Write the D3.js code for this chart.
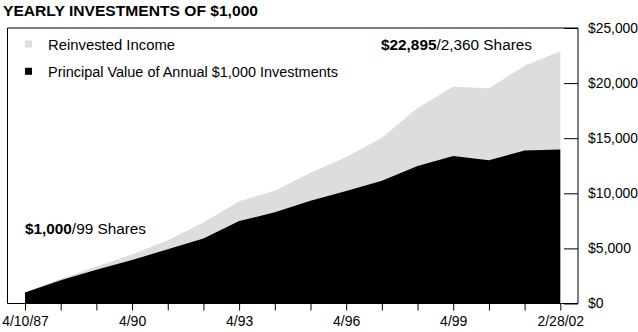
<!DOCTYPE html>
<html>
<head>
<meta charset="utf-8">
<script src="https://cdn.jsdelivr.net/npm/d3@7"></script>
<style>
  body { margin: 0; background: #fff; }
  svg { display: block; font-family: "Liberation Sans", Arial, sans-serif; }
</style>
</head>
<body>
<svg id="chart" width="638" height="332"></svg>
<script>
// ---- data ----
const periods = ["4/10/87","4/88","4/89","4/90","4/91","4/92","4/93","4/94","4/95","4/96","4/97","4/98","4/99","4/00","4/01","2/28/02"];
const tickLabels = ["4/10/87","4/90","4/93","4/96","4/99","2/28/02"];
const principal = [1000, 2110, 3070, 3950, 4920, 5900, 7480, 8270, 9320, 10220, 11130, 12480, 13380, 12990, 13890, 13980];
const totalValue = [1000, 2250, 3350, 4450, 5750, 7350, 9280, 10230, 11870, 13290, 15030, 17730, 19680, 19530, 21580, 22895];
const yTicks = [0, 5000, 10000, 15000, 20000, 25000];
const legendItems = ["Reinvested Income", "Principal Value of Annual $1,000 Investments"];
const legendColors = ["#dddddd", "#000000"];

(function () {
const svg = d3.select("#chart");
const fLeft = 7.5, fRight = 578, fTop = 28, fBottom = 303.5;

const x = d3.scalePoint().domain(periods).range([25, 560.3]);
const y = d3.scaleLinear().domain([0, 25000]).range([fBottom, fTop]);

const rows = periods.map((p, i) => ({p, principal: principal[i], total: totalValue[i]}));

// areas
svg.append("path")
  .datum(rows)
  .attr("fill", legendColors[0])
  .attr("d", d3.area().x(d => x(d.p)).y0(y(0)).y1(d => y(d.total)));
svg.append("path")
  .datum(rows)
  .attr("fill", legendColors[1])
  .attr("d", d3.area().x(d => x(d.p)).y0(y(0)).y1(d => y(d.principal)));

// frame (left, top, bottom)
svg.append("path")
  .attr("fill", "none").attr("stroke", "#000").attr("stroke-width", 1)
  .attr("d", `M${fRight},${fTop}H${fLeft}V${fBottom}H${fRight}`);

// x axis
const xAxis = d3.axisBottom(x)
  .tickSize(7).tickPadding(6)
  .tickFormat(d => tickLabels.includes(d) ? d : "");
const gx = svg.append("g").attr("transform", `translate(0,${fBottom})`).call(xAxis);
gx.select(".domain").remove();
gx.selectAll("line").attr("stroke", "#000");
gx.selectAll("text").attr("font-size", 14).attr("fill", "#000")
  .attr("font-family", "'Liberation Sans', Arial, sans-serif");

// y axis (right)
const yAxis = d3.axisRight(y).tickValues(yTicks)
  .tickSize(-14).tickPadding(10)
  .tickFormat(d => "$" + d3.format(",")(d));
const gy = svg.append("g").attr("transform", `translate(${fRight},0)`).call(yAxis);
gy.select(".domain").attr("stroke", "#000").attr("d", `M0,${fTop}V${fBottom}`);
gy.selectAll("line").attr("stroke", "#000");
gy.selectAll("text").attr("font-size", 14).attr("fill", "#000")
  .attr("font-family", "'Liberation Sans', Arial, sans-serif")
  .attr("textLength", 50).attr("lengthAdjust", "spacingAndGlyphs");
gy.selectAll(".tick").filter(d => d === 0).select("text").attr("textLength", null);
gy.selectAll(".tick").filter(d => d === 5000).select("text").attr("textLength", 43);

// title
svg.append("text").attr("x", 3).attr("y", 15.5)
  .attr("font-size", 14.5).attr("font-weight", "bold")
  .attr("textLength", 255).attr("lengthAdjust", "spacingAndGlyphs")
  .text("YEARLY INVESTMENTS OF $1,000");

// legend
const legendWidths = [127, 290];
legendItems.forEach((t, i) => {
  const ly = 50 + i * 27.3;
  svg.append("rect").attr("x", 25).attr("y", ly - 9.5).attr("width", 7).attr("height", 7)
    .attr("fill", legendColors[i]);
  svg.append("text").attr("x", 48).attr("y", ly).attr("font-size", 14)
    .attr("textLength", legendWidths[i]).attr("lengthAdjust", "spacingAndGlyphs")
    .text(t);
});

// annotations
const a1 = svg.append("text").attr("x", 25).attr("y", 233.5).attr("font-size", 14)
  .attr("textLength", 121).attr("lengthAdjust", "spacingAndGlyphs");
a1.append("tspan").attr("font-weight", "bold").text("$1,000");
a1.append("tspan").text("/99 Shares");
const a2 = svg.append("text").attr("x", 381).attr("y", 50).attr("font-size", 14)
  .attr("textLength", 151).attr("lengthAdjust", "spacingAndGlyphs");
a2.append("tspan").attr("font-weight", "bold").text("$22,895");
a2.append("tspan").text("/2,360 Shares");
})();
</script>
</body>
</html>
